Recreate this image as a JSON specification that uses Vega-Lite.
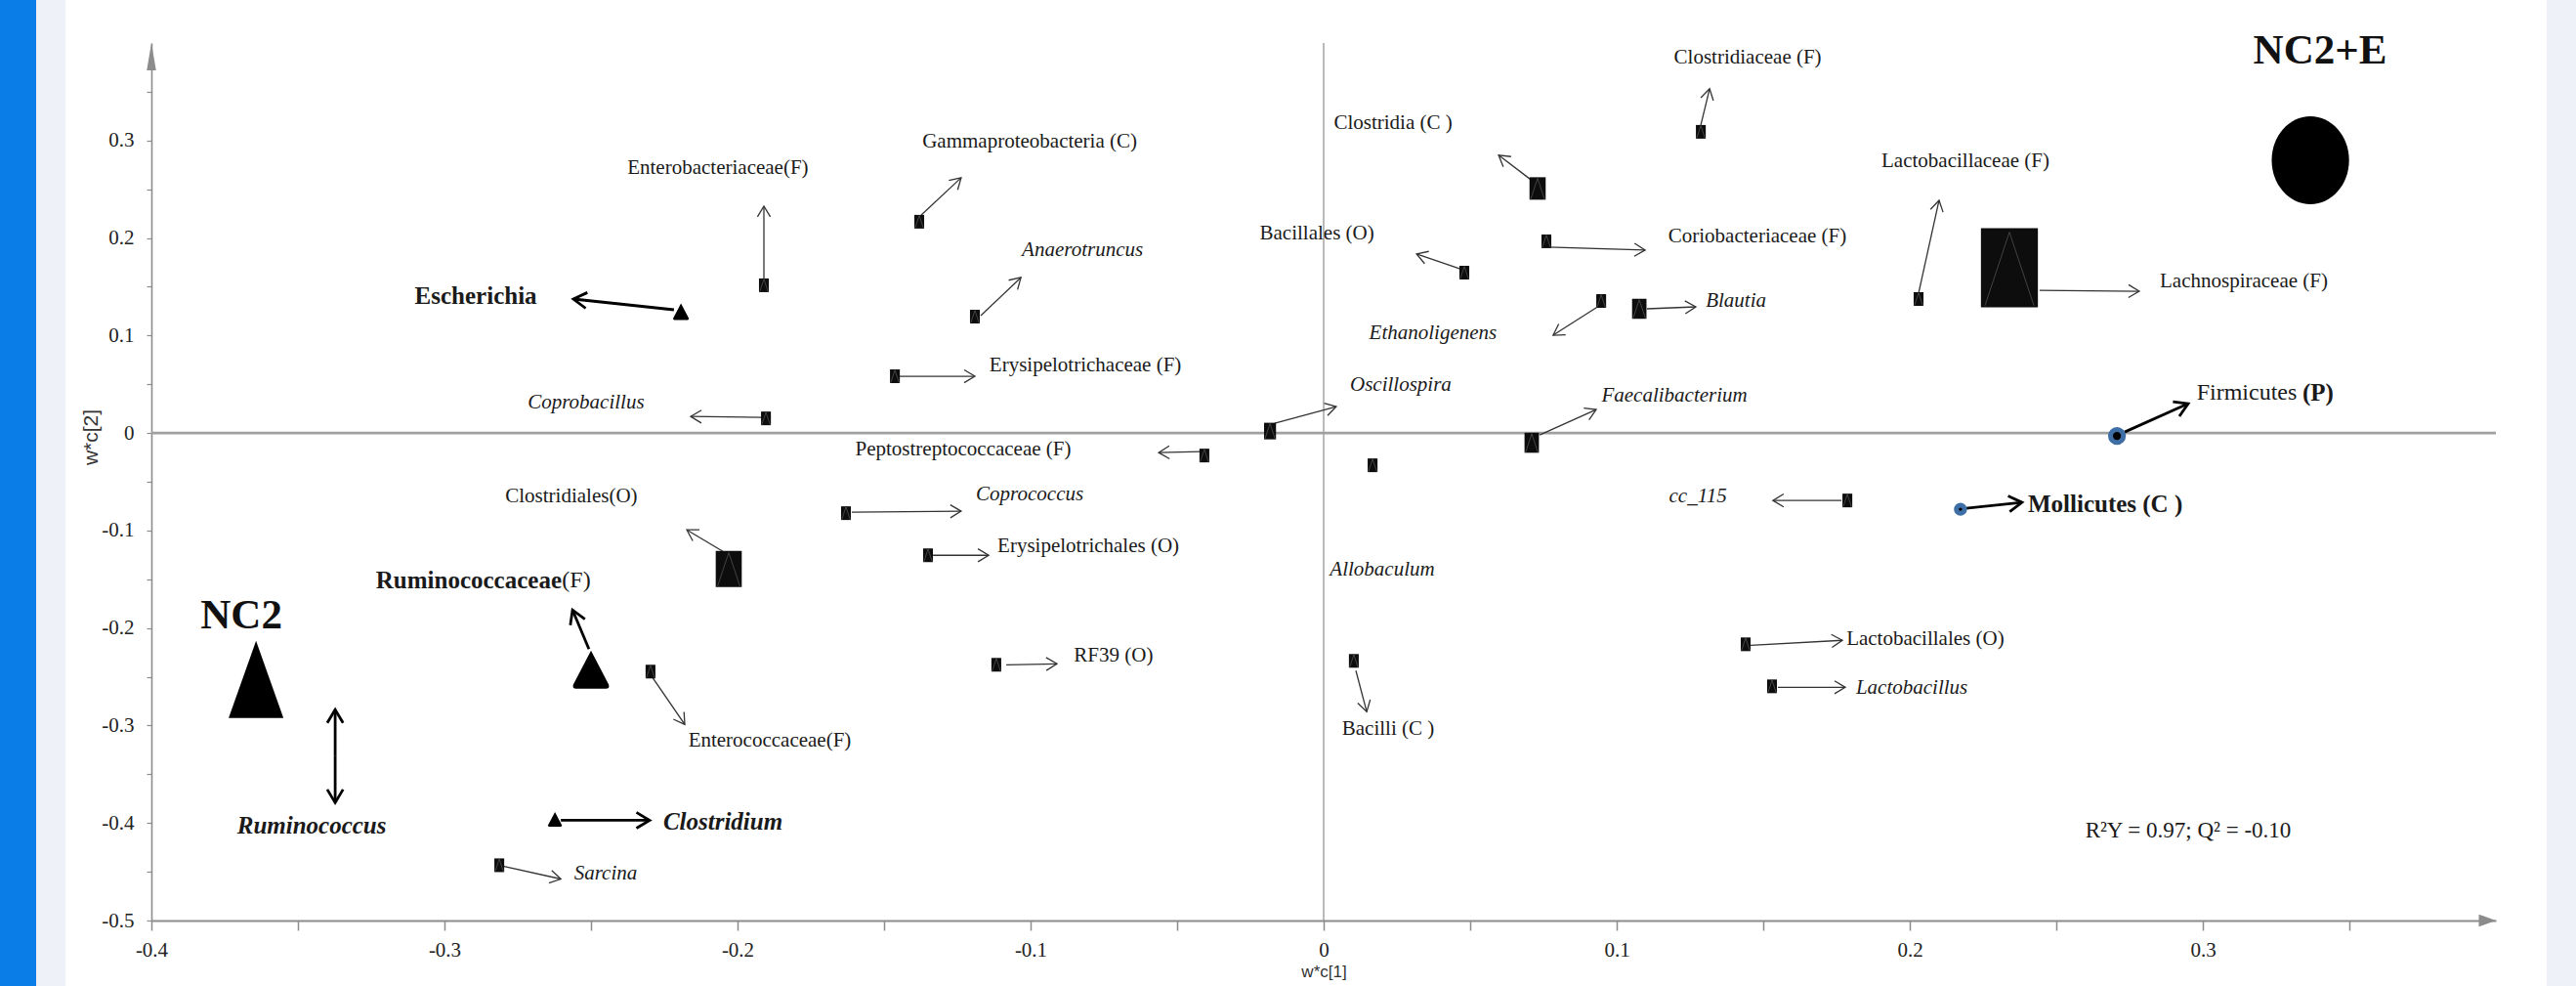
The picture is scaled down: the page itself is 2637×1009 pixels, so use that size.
{
  "$schema": "https://vega.github.io/schema/vega-lite/v6.json",
  "width": 2400,
  "height": 898,
  "autosize": {"type": "none"},
  "padding": {"left": 155, "top": 44, "right": 82, "bottom": 67},
  "background": "white",
  "config": {"view": {"stroke": null}},
  "datasets": {
    "frame": [
      {"x": -0.5, "x2": -0.4393, "y": -0.7, "y2": 0.5, "part": "bar"},
      {"x": -0.4393, "x2": -0.4293, "y": -0.7, "y2": 0.5, "part": "edge"},
      {"x": 0.4173, "x2": 0.5, "y": -0.7, "y2": 0.5, "part": "edge"}
    ],
    "zero": [
      {"x": 0, "x2": 0, "y": -0.5, "y2": 0.4, "o": "v"},
      {"x": -0.4, "x2": 0.4, "y": 0, "y2": 0, "o": "h"}
    ],
    "axisend": [
      {"x": 0.4, "y": -0.5, "d": "right"},
      {"x": -0.4, "y": 0.4, "d": "up"}
    ],
    "markers": [
      {"name": "Enterobacteriaceae", "x": -0.191, "y": 0.1515, "mk": "rect", "sz": "s"},
      {"name": "Coprobacillus", "x": -0.1903, "y": 0.015, "mk": "rect", "sz": "s"},
      {"name": "Clostridiales", "x": -0.203, "y": -0.1394, "mk": "rect", "sz": "l"},
      {"name": "Enterococcaceae", "x": -0.2297, "y": -0.2447, "mk": "rect", "sz": "s"},
      {"name": "Sarcina", "x": -0.2813, "y": -0.4433, "mk": "rect", "sz": "s"},
      {"name": "Gammaproteobacteria", "x": -0.138, "y": 0.2167, "mk": "rect", "sz": "s"},
      {"name": "Anaerotruncus", "x": -0.119, "y": 0.1194, "mk": "rect", "sz": "s"},
      {"name": "Erysipelotrichaceae", "x": -0.1463, "y": 0.0582, "mk": "rect", "sz": "s"},
      {"name": "Peptostreptococcaceae", "x": -0.0407, "y": -0.0231, "mk": "rect", "sz": "s"},
      {"name": "Oscillospira", "x": -0.0183, "y": 0.002, "mk": "rect", "sz": "os"},
      {"name": "Clostridia", "x": 0.073, "y": 0.2508, "mk": "rect", "sz": "ml"},
      {"name": "Bacillales", "x": 0.048, "y": 0.1645, "mk": "rect", "sz": "s"},
      {"name": "Coriobacteriaceae", "x": 0.076, "y": 0.1966, "mk": "rect", "sz": "s"},
      {"name": "Ethanoligenens", "x": 0.0947, "y": 0.1354, "mk": "rect", "sz": "s"},
      {"name": "Blautia", "x": 0.1077, "y": 0.1274, "mk": "rect", "sz": "m"},
      {"name": "Faecalibacterium", "x": 0.071, "y": -0.01, "mk": "rect", "sz": "m"},
      {"name": "Allobaculum", "x": 0.0167, "y": -0.0331, "mk": "rect", "sz": "s"},
      {"name": "Coprococcus", "x": -0.163, "y": -0.0822, "mk": "rect", "sz": "s"},
      {"name": "Erysipelotrichales", "x": -0.135, "y": -0.1254, "mk": "rect", "sz": "s"},
      {"name": "RF39", "x": -0.1117, "y": -0.2377, "mk": "rect", "sz": "s"},
      {"name": "Bacilli", "x": 0.0103, "y": -0.2337, "mk": "rect", "sz": "s"},
      {"name": "Clostridiaceae", "x": 0.1287, "y": 0.3089, "mk": "rect", "sz": "s"},
      {"name": "Lactobacillaceae", "x": 0.203, "y": 0.1374, "mk": "rect", "sz": "s"},
      {"name": "Lachnospiraceae", "x": 0.234, "y": 0.1695, "mk": "rect", "sz": "xl"},
      {"name": "cc_115", "x": 0.1787, "y": -0.0692, "mk": "rect", "sz": "s"},
      {"name": "Lactobacillales", "x": 0.144, "y": -0.2167, "mk": "rect", "sz": "s"},
      {"name": "Lactobacillus", "x": 0.153, "y": -0.2598, "mk": "rect", "sz": "s"},
      {"name": "Escherichia", "x": -0.2193, "y": 0.1244, "mk": "tri", "sz": "tm"},
      {"name": "Clostridium", "x": -0.2623, "y": -0.3962, "mk": "tri", "sz": "ts"},
      {"name": "Ruminococcaceae", "x": -0.25, "y": -0.2427, "mk": "tri", "sz": "tl"},
      {"name": "NC2", "x": -0.3643, "y": -0.2528, "mk": "bigtri", "sz": "tnc2"},
      {"name": "NC2+E", "x": 0.3367, "y": 0.2798, "mk": "ellipse", "sz": "enc2"},
      {"name": "Firmicutes", "x": 0.2707, "y": -0.003, "mk": "dot", "sz": "dl"},
      {"name": "Mollicutes", "x": 0.2173, "y": -0.0782, "mk": "dot", "sz": "ds"}
    ],
    "arrows": [
      {"name": "Enterobacteriaceae", "x": -0.191, "y": 0.2327, "x2": -0.191, "y2": 0.1585, "w": "thin"},
      {"name": "Coprobacillus", "x": -0.216, "y": 0.017, "x2": -0.1917, "y2": 0.016, "w": "thin"},
      {"name": "Clostridiales", "x": -0.2173, "y": -0.0993, "x2": -0.205, "y2": -0.1214, "w": "thin"},
      {"name": "Enterococcaceae", "x": -0.218, "y": -0.2989, "x2": -0.229, "y2": -0.2508, "w": "thin"},
      {"name": "Sarcina", "x": -0.2603, "y": -0.4574, "x2": -0.28, "y2": -0.4443, "w": "thin"},
      {"name": "Gammaproteobacteria", "x": -0.1237, "y": 0.2618, "x2": -0.1373, "y2": 0.2237, "w": "thin"},
      {"name": "Anaerotruncus", "x": -0.1033, "y": 0.1595, "x2": -0.117, "y2": 0.1204, "w": "thin"},
      {"name": "Erysipelotrichaceae", "x": -0.119, "y": 0.0582, "x2": -0.1447, "y2": 0.0582, "w": "thin"},
      {"name": "Peptostreptococcaceae", "x": -0.0563, "y": -0.0201, "x2": -0.0417, "y2": -0.0191, "w": "thin"},
      {"name": "Oscillospira", "x": 0.0043, "y": 0.0271, "x2": -0.0167, "y2": 0.01, "w": "thin"},
      {"name": "Clostridia", "x": 0.0597, "y": 0.2849, "x2": 0.0707, "y2": 0.2598, "w": "thin"},
      {"name": "Bacillales", "x": 0.0317, "y": 0.1836, "x2": 0.0473, "y2": 0.1675, "w": "thin"},
      {"name": "Coriobacteriaceae", "x": 0.1097, "y": 0.1876, "x2": 0.0767, "y2": 0.1906, "w": "thin"},
      {"name": "Ethanoligenens", "x": 0.0783, "y": 0.1003, "x2": 0.094, "y2": 0.1304, "w": "thin"},
      {"name": "Blautia", "x": 0.127, "y": 0.1294, "x2": 0.1103, "y2": 0.1274, "w": "thin"},
      {"name": "Faecalibacterium", "x": 0.093, "y": 0.0241, "x2": 0.0737, "y2": -0.002, "w": "thin"},
      {"name": "Coprococcus", "x": -0.1237, "y": -0.0802, "x2": -0.161, "y2": -0.0812, "w": "thin"},
      {"name": "Erysipelotrichales", "x": -0.1143, "y": -0.1254, "x2": -0.1333, "y2": -0.1254, "w": "thin"},
      {"name": "RF39", "x": -0.091, "y": -0.2367, "x2": -0.1083, "y2": -0.2377, "w": "thin"},
      {"name": "Bacilli", "x": 0.0147, "y": -0.2859, "x2": 0.011, "y2": -0.2437, "w": "thin"},
      {"name": "Clostridiaceae", "x": 0.1317, "y": 0.3531, "x2": 0.1287, "y2": 0.3159, "w": "thin"},
      {"name": "Lactobacillaceae", "x": 0.21, "y": 0.2387, "x2": 0.203, "y2": 0.1434, "w": "thin"},
      {"name": "Lachnospiraceae", "x": 0.2783, "y": 0.1454, "x2": 0.2443, "y2": 0.1464, "w": "thin"},
      {"name": "cc_115", "x": 0.1533, "y": -0.0692, "x2": 0.1767, "y2": -0.0692, "w": "thin"},
      {"name": "Lactobacillales", "x": 0.177, "y": -0.2126, "x2": 0.1457, "y2": -0.2177, "w": "thin"},
      {"name": "Lactobacillus", "x": 0.178, "y": -0.2608, "x2": 0.155, "y2": -0.2608, "w": "thin"},
      {"name": "Escherichia", "x": -0.256, "y": 0.1374, "x2": -0.2217, "y2": 0.1264, "w": "thick"},
      {"name": "Ruminococcaceae", "x": -0.2563, "y": -0.1815, "x2": -0.2507, "y2": -0.2217, "w": "thick"},
      {"name": "Ruminococcus", "x": -0.3373, "y": -0.2838, "x2": -0.3373, "y2": -0.3315, "w": "thick"},
      {"name": "Ruminococcus", "x": -0.3373, "y": -0.3791, "x2": -0.3373, "y2": -0.3315, "w": "thick"},
      {"name": "Clostridium", "x": -0.23, "y": -0.3972, "x2": -0.2603, "y2": -0.3972, "w": "thick"},
      {"name": "Firmicutes", "x": 0.295, "y": 0.0301, "x2": 0.2733, "y2": 0.001, "w": "thick"},
      {"name": "Mollicutes", "x": 0.2383, "y": -0.0712, "x2": 0.2193, "y2": -0.0772, "w": "thick"}
    ],
    "labels": [
      {"text": "Enterobacteriaceae(F)", "x": -0.2067, "y": 0.2718, "st": "reg"},
      {"text": "Clostridiales(O)", "x": -0.2567, "y": -0.0652, "st": "reg"},
      {"text": "Enterococcaceae(F)", "x": -0.189, "y": -0.316, "st": "reg"},
      {"text": "Gammaproteobacteria (C)", "x": -0.1003, "y": 0.2989, "st": "reg"},
      {"text": "Erysipelotrichaceae (F)", "x": -0.0813, "y": 0.0692, "st": "reg"},
      {"text": "Peptostreptococcaceae (F)", "x": -0.123, "y": -0.0171, "st": "reg"},
      {"text": "Clostridia (C )", "x": 0.0237, "y": 0.318, "st": "reg"},
      {"text": "Bacillales (O)", "x": -0.0023, "y": 0.2046, "st": "reg"},
      {"text": "Coriobacteriaceae (F)", "x": 0.148, "y": 0.2016, "st": "reg"},
      {"text": "Erysipelotrichales (O)", "x": -0.0803, "y": -0.1163, "st": "reg"},
      {"text": "RF39 (O)", "x": -0.0717, "y": -0.2287, "st": "reg"},
      {"text": "Bacilli (C )", "x": 0.022, "y": -0.3039, "st": "reg"},
      {"text": "Clostridiaceae (F)", "x": 0.1447, "y": 0.3852, "st": "reg"},
      {"text": "Lactobacillaceae (F)", "x": 0.219, "y": 0.2788, "st": "reg"},
      {"text": "Lachnospiraceae (F)", "x": 0.314, "y": 0.1555, "st": "reg"},
      {"text": "Lactobacillales (O)", "x": 0.2053, "y": -0.2116, "st": "reg"},
      {"text": "Coprobacillus", "x": -0.2517, "y": 0.0311, "st": "ital"},
      {"text": "Sarcina", "x": -0.245, "y": -0.4514, "st": "ital"},
      {"text": "Anaerotruncus", "x": -0.0823, "y": 0.1876, "st": "ital"},
      {"text": "Oscillospira", "x": 0.0263, "y": 0.0491, "st": "ital"},
      {"text": "Ethanoligenens", "x": 0.0373, "y": 0.1023, "st": "ital"},
      {"text": "Blautia", "x": 0.1407, "y": 0.1354, "st": "ital"},
      {"text": "Faecalibacterium", "x": 0.1197, "y": 0.0381, "st": "ital"},
      {"text": "Allobaculum", "x": 0.02, "y": -0.1404, "st": "ital"},
      {"text": "Coprococcus", "x": -0.1003, "y": -0.0632, "st": "ital"},
      {"text": "cc_115", "x": 0.1277, "y": -0.0652, "st": "ital"},
      {"text": "Lactobacillus", "x": 0.2007, "y": -0.2618, "st": "ital"},
      {"text": "Escherichia", "x": -0.2893, "y": 0.1404, "st": "bold"},
      {"text": "Ruminococcaceae", "x": -0.2917, "y": -0.1515, "st": "bold"},
      {"text": "(F)", "x": -0.255, "y": -0.1515, "st": "regl"},
      {"text": "Mollicutes (C )", "x": 0.2667, "y": -0.0732, "st": "bold"},
      {"text": "Firmicutes", "x": 0.315, "y": 0.0411, "st": "regl"},
      {"text": "(P)", "x": 0.3393, "y": 0.0411, "st": "bold"},
      {"text": "Ruminococcus", "x": -0.3453, "y": -0.4032, "st": "bi"},
      {"text": "Clostridium", "x": -0.205, "y": -0.3992, "st": "bi"},
      {"text": "NC2", "x": -0.3693, "y": -0.1876, "st": "grp"},
      {"text": "NC2+E", "x": 0.34, "y": 0.3922, "st": "grp"},
      {"text": "R²Y = 0.97; Q² = -0.10", "x": 0.295, "y": -0.4082, "st": "stat"}
    ]
  },
  "encoding": {
    "x": {
      "field": "x", "type": "quantitative",
      "scale": {"domain": [-0.4, 0.4], "nice": false, "zero": false},
      "axis": {
        "title": "w*c[1]",
        "values": [-0.4, -0.35, -0.3, -0.25, -0.2, -0.15, -0.1, -0.05, 0, 0.05, 0.1, 0.15, 0.2, 0.25, 0.3, 0.35],
        "labelExpr": "abs(datum.value*10-round(datum.value*10))<0.001 ? toString(round(datum.value*10)/10) : ''",
        "grid": false, "domainColor": "#8c8c8c", "domainWidth": 2, "tickColor": "#8c8c8c", "tickWidth": 1.5, "tickSize": 10,
        "labelFont": "Liberation Serif", "labelFontSize": 21, "labelColor": "#222", "labelPadding": 9, "labelFlush": false, "labelOverlap": false,
        "titleFont": "Liberation Sans", "titleFontSize": 17, "titleFontWeight": "normal", "titleColor": "#333", "titleY": 44, "titleBaseline": "top"
      }
    },
    "y": {
      "field": "y", "type": "quantitative",
      "scale": {"domain": [-0.5, 0.4], "nice": false, "zero": false},
      "axis": {
        "title": "w*c[2]",
        "values": [-0.5, -0.45, -0.4, -0.35, -0.3, -0.25, -0.2, -0.15, -0.1, -0.05, 0, 0.05, 0.1, 0.15, 0.2, 0.25, 0.3, 0.35],
        "labelExpr": "abs(datum.value*10-round(datum.value*10))<0.001 ? toString(round(datum.value*10)/10) : ''",
        "grid": false, "domainColor": "#8c8c8c", "domainWidth": 1.6, "tickColor": "#8c8c8c", "tickWidth": 1.2, "tickSize": 5,
        "labelFont": "Liberation Serif", "labelFontSize": 21, "labelColor": "#222", "labelPadding": 13, "labelOverlap": false, "labelFlush": false,
        "titleFont": "Liberation Sans", "titleFontSize": 21, "titleFontWeight": "normal", "titleColor": "#333",
        "titleAngle": 270, "titleX": -62, "titleY": 403, "titleAlign": "center", "titleBaseline": "middle"
      }
    }
  },
  "layer": [
    {
      "data": {"name": "frame"},
      "mark": {"type": "rect", "stroke": null},
      "encoding": {
        "x2": {"field": "x2"}, "y2": {"field": "y2"},
        "color": {"field": "part", "type": "nominal", "scale": {"domain": ["bar", "edge"], "range": ["#0a7de6", "#eef1f7"]}, "legend": null}
      }
    },
    {
      "data": {"name": "zero"},
      "transform": [{"filter": "datum.o === 'v'"}],
      "mark": {"type": "rule", "color": "#8c8c8c", "strokeWidth": 1.2},
      "encoding": {"x2": {"field": "x2"}, "y2": {"field": "y2"}}
    },
    {
      "data": {"name": "zero"},
      "transform": [{"filter": "datum.o === 'h'"}],
      "mark": {"type": "rule", "color": "#a0a0a0", "strokeWidth": 2.6},
      "encoding": {"x2": {"field": "x2"}, "y2": {"field": "y2"}}
    },
    {
      "data": {"name": "axisend"},
      "transform": [{"filter": "datum.d === 'right'"}],
      "mark": {"type": "point", "shape": "M0,0L-1,-0.36L-1,0.36Z", "filled": true, "color": "#8c8c8c", "size": 1225, "opacity": 1}
    },
    {
      "data": {"name": "axisend"},
      "transform": [{"filter": "datum.d === 'up'"}],
      "mark": {"type": "point", "shape": "M0,0L-0.17,1L0.17,1Z", "filled": true, "color": "#8c8c8c", "size": 3136, "opacity": 1}
    },
    {
      "data": {"name": "arrows"},
      "transform": [{"filter": "datum.w === 'thin'"}],
      "mark": {"type": "rule", "color": "#333333", "strokeWidth": 1.3},
      "encoding": {"x2": {"field": "x2"}, "y2": {"field": "y2"}}
    },
    {
      "data": {"name": "arrows"},
      "transform": [{"filter": "datum.w === 'thick'"}],
      "mark": {"type": "rule", "color": "#000000", "strokeWidth": 2.8},
      "encoding": {"x2": {"field": "x2"}, "y2": {"field": "y2"}}
    },
    {
      "data": {"name": "arrows"},
      "transform": [
        {"filter": "datum.w === 'thin'"},
        {"calculate": "atan2((datum.y2 - datum.y) * 997, (datum.x - datum.x2) * 3000) * 180 / PI", "as": "ang"}
      ],
      "mark": {"type": "point", "shape": "M-1,-0.6L0,0L-1,0.6", "filled": false, "color": "#333333", "strokeWidth": 1.3, "size": 484, "opacity": 1},
      "encoding": {"angle": {"field": "ang", "type": "quantitative", "scale": null}}
    },
    {
      "data": {"name": "arrows"},
      "transform": [
        {"filter": "datum.w === 'thick'"},
        {"calculate": "atan2((datum.y2 - datum.y) * 997, (datum.x - datum.x2) * 3000) * 180 / PI", "as": "ang"}
      ],
      "mark": {"type": "point", "shape": "M-1,-0.6L0,0L-1,0.6", "filled": false, "color": "#000000", "strokeWidth": 2.8, "size": 729, "opacity": 1},
      "encoding": {"angle": {"field": "ang", "type": "quantitative", "scale": null}}
    },
    {
      "data": {"name": "markers"},
      "transform": [{"filter": "datum.mk === 'rect'"}],
      "mark": {"type": "point", "shape": "M-0.72,-1H0.72V1H-0.72Z", "filled": true, "color": "#0d0d0d", "opacity": 1},
      "encoding": {"size": {"field": "sz", "type": "ordinal", "legend": null, "scale": {"type": "ordinal", "domain": ["s", "os", "m", "ml", "l", "xl", "ts", "tm", "tl", "tnc2", "enc2", "dl", "ds"], "range": [196, 289, 420, 529, 1369, 6561, 225, 289, 1521, 6241, 8100, 177, 70]}}}
    },
    {
      "data": {"name": "markers"},
      "transform": [{"filter": "datum.mk === 'rect'"}],
      "mark": {"type": "point", "shape": "M-0.62,0.96L0,-0.9L0.62,0.96", "filled": false, "color": "#5a5a5a", "strokeWidth": 0.7, "opacity": 1},
      "encoding": {"size": {"field": "sz", "type": "ordinal", "legend": null, "scale": {"type": "ordinal", "domain": ["s", "os", "m", "ml", "l", "xl", "ts", "tm", "tl", "tnc2", "enc2", "dl", "ds"], "range": [196, 289, 420, 529, 1369, 6561, 225, 289, 1521, 6241, 8100, 177, 70]}}}
    },
    {
      "data": {"name": "markers"},
      "transform": [{"filter": "datum.mk === 'tri'"}],
      "mark": {"type": "point", "shape": "M0,-1L0.93,0.78Q1,1 0.78,1H-0.78Q-1,1 -0.93,0.78Z", "filled": true, "color": "#000000", "opacity": 1},
      "encoding": {"size": {"field": "sz", "type": "ordinal", "legend": null, "scale": {"type": "ordinal", "domain": ["s", "os", "m", "ml", "l", "xl", "ts", "tm", "tl", "tnc2", "enc2", "dl", "ds"], "range": [196, 289, 420, 529, 1369, 6561, 225, 289, 1521, 6241, 8100, 177, 70]}}}
    },
    {
      "data": {"name": "markers"},
      "transform": [{"filter": "datum.mk === 'bigtri'"}],
      "mark": {"type": "point", "shape": "M0,-1L0.71,1H-0.71Z", "filled": true, "color": "#000000", "opacity": 1},
      "encoding": {"size": {"field": "sz", "type": "ordinal", "legend": null, "scale": {"type": "ordinal", "domain": ["s", "os", "m", "ml", "l", "xl", "ts", "tm", "tl", "tnc2", "enc2", "dl", "ds"], "range": [196, 289, 420, 529, 1369, 6561, 225, 289, 1521, 6241, 8100, 177, 70]}}}
    },
    {
      "data": {"name": "markers"},
      "transform": [{"filter": "datum.mk === 'ellipse'"}],
      "mark": {"type": "point", "shape": "M0,-1C0.486,-1 0.88,-0.552 0.88,0C0.88,0.552 0.486,1 0,1C-0.486,1 -0.88,0.552 -0.88,0C-0.88,-0.552 -0.486,-1 0,-1Z", "filled": true, "color": "#000000", "opacity": 1},
      "encoding": {"size": {"field": "sz", "type": "ordinal", "legend": null, "scale": {"type": "ordinal", "domain": ["s", "os", "m", "ml", "l", "xl", "ts", "tm", "tl", "tnc2", "enc2", "dl", "ds"], "range": [196, 289, 420, 529, 1369, 6561, 225, 289, 1521, 6241, 8100, 177, 70]}}}
    },
    {
      "data": {"name": "markers"},
      "transform": [{"filter": "datum.mk === 'dot'"}],
      "mark": {"type": "point", "shape": "circle", "filled": true, "fill": "#000000", "stroke": "#3d6ea5", "strokeWidth": 5, "opacity": 1},
      "encoding": {"size": {"field": "sz", "type": "ordinal", "legend": null, "scale": {"type": "ordinal", "domain": ["s", "os", "m", "ml", "l", "xl", "ts", "tm", "tl", "tnc2", "enc2", "dl", "ds"], "range": [196, 289, 420, 529, 1369, 6561, 225, 289, 1521, 6241, 8100, 177, 70]}}}
    },
    {
      "data": {"name": "labels"},
      "transform": [{"filter": "datum.st === 'reg'"}],
      "mark": {"type": "text", "font": "Liberation Serif", "fontSize": 21, "align": "center", "baseline": "middle", "color": "#1a1a1a"},
      "encoding": {"text": {"field": "text"}}
    },
    {
      "data": {"name": "labels"},
      "transform": [{"filter": "datum.st === 'ital'"}],
      "mark": {"type": "text", "font": "Liberation Serif", "fontSize": 21, "fontStyle": "italic", "align": "center", "baseline": "middle", "color": "#1a1a1a"},
      "encoding": {"text": {"field": "text"}}
    },
    {
      "data": {"name": "labels"},
      "transform": [{"filter": "datum.st === 'bold'"}],
      "mark": {"type": "text", "font": "Liberation Serif", "fontSize": 25, "fontWeight": "bold", "align": "center", "baseline": "middle", "color": "#1a1a1a"},
      "encoding": {"text": {"field": "text"}}
    },
    {
      "data": {"name": "labels"},
      "transform": [{"filter": "datum.st === 'regl'"}],
      "mark": {"type": "text", "font": "Liberation Serif", "fontSize": 24, "align": "center", "baseline": "middle", "color": "#1a1a1a"},
      "encoding": {"text": {"field": "text"}}
    },
    {
      "data": {"name": "labels"},
      "transform": [{"filter": "datum.st === 'bi'"}],
      "mark": {"type": "text", "font": "Liberation Serif", "fontSize": 25, "fontWeight": "bold", "fontStyle": "italic", "align": "center", "baseline": "middle", "color": "#1a1a1a"},
      "encoding": {"text": {"field": "text"}}
    },
    {
      "data": {"name": "labels"},
      "transform": [{"filter": "datum.st === 'grp'"}],
      "mark": {"type": "text", "font": "Liberation Serif", "fontSize": 43, "fontWeight": "bold", "align": "center", "baseline": "middle", "color": "#111111"},
      "encoding": {"text": {"field": "text"}}
    },
    {
      "data": {"name": "labels"},
      "transform": [{"filter": "datum.st === 'stat'"}],
      "mark": {"type": "text", "font": "Liberation Serif", "fontSize": 23, "align": "center", "baseline": "middle", "color": "#1a1a1a"},
      "encoding": {"text": {"field": "text"}}
    }
  ]
}
